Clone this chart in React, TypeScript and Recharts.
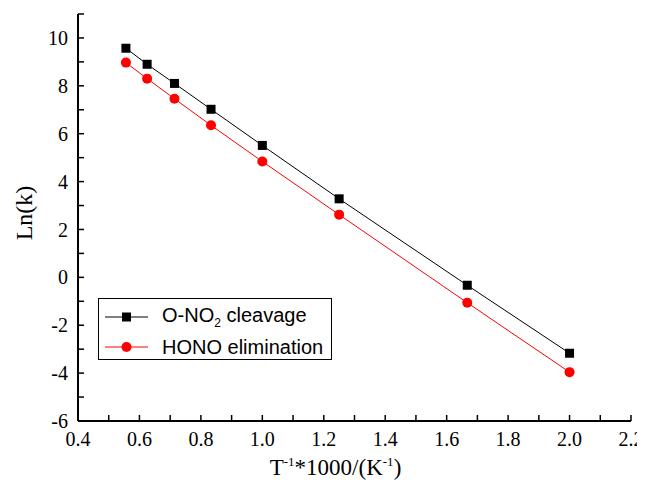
import { LineChart, Line, XAxis, YAxis, Legend } from "recharts";

const invT = [0.556, 0.625, 0.714, 0.833, 1.0, 1.25, 1.667, 2.0];
const onoCleavage = [9.57, 8.9, 8.1, 7.02, 5.51, 3.28, -0.33, -3.17];
const honoElimination = [8.97, 8.3, 7.46, 6.35, 4.84, 2.62, -1.06, -3.96];
const xTicks = [0.4, 0.5, 0.6, 0.7, 0.8, 0.9, 1.0, 1.1, 1.2, 1.3, 1.4, 1.5, 1.6, 1.7, 1.8, 1.9, 2.0, 2.1, 2.2];
const yTicks = [-6, -5, -4, -3, -2, -1, 0, 1, 2, 3, 4, 5, 6, 7, 8, 9, 10, 11];

const data = invT.map((x, i) => ({ x, a: onoCleavage[i], b: honoElimination[i] }));

const serif = "Liberation Serif";
const sans = "Liberation Sans";

// only every other tick carries a label, the rest are minor
const fmtX = (v: number) => (Math.round(v * 10) % 2 === 0 ? v.toFixed(1) : "");
const fmtY = (v: number) => (v % 2 === 0 ? String(v) : "");

const Square = ({ cx, cy }: any) => <rect x={cx - 4.5} y={cy - 4.5} width={9} height={9} fill="#000" />;
const Dot = ({ cx, cy }: any) => <circle cx={cx} cy={cy} r={5} fill="#ff0000" />;

const LegendBox = () => (
    <div style={{
        border: "1px solid #000",
        background: "#fff",
        width: 234,
        height: 62,
        boxSizing: "border-box",
        fontFamily: sans,
        fontSize: 20,
        color: "#000",
        paddingTop: 2,
        textAlign: "left",
    }}>
        <div style={{ display: "flex", alignItems: "center", height: 32 }}>
            <svg width={57} height={20} style={{ marginLeft: 6 }}>
                <line x1={0} x2={43} y1={10} y2={10} stroke="#000" strokeWidth={1} />
                <rect x={17} y={5.5} width={9} height={9} fill="#000" />
            </svg>
            <span>O-NO<sub style={{ fontSize: 12 }}>2</sub> cleavage</span>
        </div>
        <div style={{ display: "flex", alignItems: "center", height: 28 }}>
            <svg width={57} height={20} style={{ marginLeft: 6 }}>
                <line x1={0} x2={43} y1={10} y2={10} stroke="#ff0000" strokeWidth={1} />
                <circle cx={21.5} cy={10} r={5} fill="#ff0000" />
            </svg>
            <span>HONO elimination</span>
        </div>
    </div>
);

const XLabel = ({ viewBox }: any) => {
    const cx = viewBox.x + viewBox.width / 2 - 19;
    return (
        <text x={cx} y={467} textAnchor="middle" fontFamily={serif} fontSize={23} fill="#000">
            T<tspan dy={-9} fontSize={13}>-1</tspan>
            <tspan dy={9}>*1000/(K</tspan>
            <tspan dy={-9} fontSize={13}>-1</tspan>
            <tspan dy={9}>)</tspan>
        </text>
    );
};

const YLabel = () => (
    <text
        x={16}
        y={205}
        dy="0.35em"
        textAnchor="middle"
        transform="rotate(-90, 16, 205)"
        fontFamily={serif}
        fontSize={24}
        fill="#000"
    >
        Ln(k)
    </text>
);

export default function App() {
    return (
        <LineChart width={637} height={472} data={data} margin={{ top: 6, right: 14, bottom: 0, left: 0 }} style={{ overflow: "visible" }}>
            <XAxis
                dataKey="x"
                type="number"
                domain={[0.4, 2.2]}
                ticks={xTicks}
                interval={0}
                height={59}
                tickSize={-6}
                tickMargin={17}
                tickFormatter={fmtX}
                tickLine={{ stroke: "#000", strokeWidth: 1.5 }}
                tick={{ fontFamily: serif, fontSize: 20, fill: "#000" }}
                axisLine={{ stroke: "#000", strokeWidth: 2 }}
                label={<XLabel />}
            />
            <YAxis
                type="number"
                domain={[-6, 11]}
                ticks={yTicks}
                interval={0}
                width={70}
                tickSize={-6}
                tickMargin={16}
                tickFormatter={fmtY}
                tickLine={{ stroke: "#000", strokeWidth: 1.5 }}
                tick={{ fontFamily: serif, fontSize: 20, fill: "#000" }}
                axisLine={{ stroke: "#000", strokeWidth: 2 }}
                label={<YLabel />}
            />
            <Legend
                content={<LegendBox />}
                layout="horizontal"
                verticalAlign="middle"
                align="center"
                wrapperStyle={{ left: 90, top: 290, width: 234 }}
            />
            <Line dataKey="a" name="O-NO2 cleavage" stroke="#000" strokeWidth={1} dot={<Square />} isAnimationActive={false} />
            <Line dataKey="b" name="HONO elimination" stroke="#ff0000" strokeWidth={1} dot={<Dot />} isAnimationActive={false} />
        </LineChart>
    );
}
